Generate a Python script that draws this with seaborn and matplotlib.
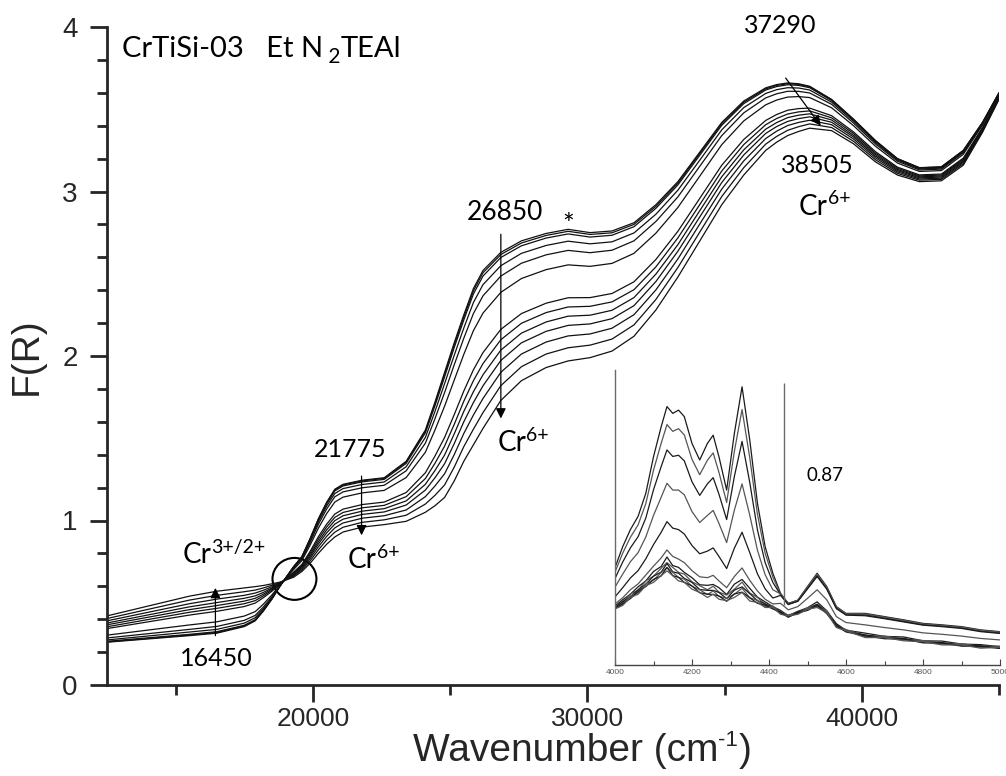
import matplotlib
matplotlib.use("Agg")
import matplotlib.pyplot as plt
from matplotlib import font_manager
from matplotlib.patches import Ellipse
from matplotlib.ticker import MultipleLocator
import pandas as pd
import seaborn as sns

# ---------------- DRS spectra, F(R) vs wavenumber (cm-1) ----------------
wavenumber = [12500, 14000, 15500, 16500, 17500, 17900, 18200, 18500, 18800, 19300,
              19600, 19900, 20200, 20500, 20800, 21100, 21800, 22600, 23400, 24100,
              24450, 24800, 25150, 25500, 25850, 26200, 26850, 27600, 28500, 29300,
              30100, 30900, 31700, 32500, 33300, 34100, 34900, 35700, 36500, 36900,
              37300, 37700, 38100, 38900, 39700, 40500, 41300, 42100, 42900, 43700,
              44400, 45000]

spectrum_01 = [0.260, 0.280, 0.300, 0.315, 0.355, 0.390, 0.450, 0.520, 0.600, 0.720, 0.780, 0.890, 1.010, 1.110, 1.190, 1.220, 1.245, 1.260, 1.360, 1.550, 1.720, 1.900, 2.080, 2.250, 2.410, 2.520, 2.630, 2.700, 2.745, 2.770, 2.750, 2.760, 2.810, 2.920, 3.060, 3.240, 3.420, 3.550, 3.630, 3.650, 3.660, 3.655, 3.640, 3.560, 3.440, 3.310, 3.200, 3.145, 3.150, 3.250, 3.420, 3.600]
spectrum_02 = [0.262, 0.283, 0.304, 0.319, 0.359, 0.393, 0.452, 0.521, 0.600, 0.719, 0.779, 0.888, 1.007, 1.106, 1.186, 1.216, 1.241, 1.256, 1.355, 1.543, 1.711, 1.889, 2.067, 2.237, 2.396, 2.506, 2.617, 2.687, 2.733, 2.758, 2.739, 2.749, 2.800, 2.910, 3.051, 3.232, 3.413, 3.543, 3.624, 3.645, 3.655, 3.651, 3.636, 3.557, 3.438, 3.308, 3.199, 3.144, 3.149, 3.249, 3.419, 3.599]
spectrum_03 = [0.266, 0.287, 0.308, 0.324, 0.363, 0.397, 0.455, 0.523, 0.601, 0.718, 0.777, 0.885, 1.003, 1.101, 1.180, 1.210, 1.235, 1.250, 1.347, 1.533, 1.698, 1.873, 2.051, 2.219, 2.377, 2.486, 2.599, 2.670, 2.717, 2.742, 2.723, 2.734, 2.786, 2.898, 3.040, 3.221, 3.403, 3.534, 3.617, 3.638, 3.649, 3.645, 3.631, 3.553, 3.435, 3.305, 3.197, 3.142, 3.147, 3.247, 3.418, 3.599]
spectrum_04 = [0.274, 0.298, 0.322, 0.338, 0.376, 0.409, 0.464, 0.529, 0.602, 0.714, 0.772, 0.877, 0.991, 1.087, 1.164, 1.194, 1.219, 1.234, 1.327, 1.505, 1.663, 1.832, 2.004, 2.170, 2.325, 2.434, 2.549, 2.624, 2.672, 2.698, 2.682, 2.694, 2.748, 2.862, 3.008, 3.191, 3.375, 3.510, 3.596, 3.619, 3.631, 3.629, 3.617, 3.543, 3.427, 3.298, 3.191, 3.137, 3.142, 3.242, 3.415, 3.596]
spectrum_05 = [0.286, 0.312, 0.338, 0.356, 0.393, 0.423, 0.475, 0.535, 0.604, 0.710, 0.766, 0.866, 0.976, 1.069, 1.144, 1.174, 1.199, 1.214, 1.302, 1.470, 1.619, 1.778, 1.946, 2.108, 2.258, 2.366, 2.486, 2.564, 2.615, 2.642, 2.628, 2.643, 2.700, 2.818, 2.967, 3.154, 3.340, 3.478, 3.569, 3.594, 3.609, 3.609, 3.599, 3.530, 3.416, 3.289, 3.184, 3.131, 3.136, 3.236, 3.410, 3.594]
spectrum_06 = [0.303, 0.334, 0.365, 0.384, 0.419, 0.446, 0.492, 0.546, 0.607, 0.702, 0.756, 0.850, 0.953, 1.041, 1.112, 1.142, 1.168, 1.183, 1.261, 1.415, 1.550, 1.695, 1.853, 2.010, 2.154, 2.261, 2.387, 2.471, 2.525, 2.554, 2.545, 2.563, 2.624, 2.747, 2.903, 3.094, 3.285, 3.429, 3.527, 3.556, 3.574, 3.577, 3.571, 3.509, 3.400, 3.275, 3.173, 3.122, 3.127, 3.226, 3.404, 3.589]
spectrum_07 = [0.343, 0.384, 0.425, 0.448, 0.477, 0.498, 0.531, 0.569, 0.613, 0.686, 0.733, 0.812, 0.901, 0.977, 1.039, 1.069, 1.097, 1.112, 1.170, 1.290, 1.392, 1.505, 1.643, 1.787, 1.916, 2.021, 2.162, 2.258, 2.321, 2.354, 2.355, 2.380, 2.451, 2.587, 2.758, 2.959, 3.160, 3.316, 3.432, 3.468, 3.494, 3.504, 3.507, 3.461, 3.362, 3.242, 3.148, 3.101, 3.106, 3.203, 3.389, 3.579]
spectrum_08 = [0.354, 0.398, 0.442, 0.466, 0.494, 0.513, 0.542, 0.576, 0.615, 0.682, 0.727, 0.802, 0.886, 0.960, 1.019, 1.049, 1.077, 1.092, 1.145, 1.255, 1.348, 1.452, 1.584, 1.725, 1.850, 1.954, 2.099, 2.199, 2.264, 2.298, 2.302, 2.329, 2.403, 2.542, 2.718, 2.921, 3.125, 3.285, 3.406, 3.444, 3.471, 3.484, 3.490, 3.448, 3.352, 3.233, 3.141, 3.095, 3.100, 3.197, 3.385, 3.576]
spectrum_09 = [0.366, 0.412, 0.458, 0.483, 0.510, 0.527, 0.552, 0.583, 0.617, 0.677, 0.721, 0.791, 0.871, 0.942, 0.999, 1.029, 1.057, 1.072, 1.119, 1.220, 1.304, 1.398, 1.526, 1.663, 1.783, 1.886, 2.036, 2.139, 2.207, 2.242, 2.248, 2.278, 2.355, 2.498, 2.677, 2.884, 3.090, 3.253, 3.379, 3.419, 3.449, 3.464, 3.472, 3.435, 3.341, 3.224, 3.134, 3.089, 3.094, 3.191, 3.380, 3.574]
spectrum_10 = [0.377, 0.426, 0.475, 0.501, 0.527, 0.542, 0.563, 0.589, 0.618, 0.673, 0.714, 0.781, 0.857, 0.924, 0.978, 1.008, 1.037, 1.052, 1.094, 1.185, 1.260, 1.345, 1.467, 1.600, 1.717, 1.819, 1.973, 2.080, 2.150, 2.186, 2.195, 2.227, 2.306, 2.453, 2.637, 2.846, 3.055, 3.222, 3.353, 3.395, 3.426, 3.443, 3.454, 3.421, 3.331, 3.215, 3.127, 3.083, 3.088, 3.184, 3.376, 3.571]
spectrum_11 = [0.390, 0.442, 0.494, 0.522, 0.545, 0.559, 0.576, 0.597, 0.620, 0.667, 0.707, 0.769, 0.840, 0.903, 0.955, 0.985, 1.014, 1.029, 1.064, 1.145, 1.210, 1.284, 1.400, 1.529, 1.641, 1.742, 1.901, 2.012, 2.085, 2.122, 2.134, 2.169, 2.251, 2.402, 2.590, 2.803, 3.015, 3.186, 3.322, 3.367, 3.401, 3.420, 3.433, 3.406, 3.319, 3.205, 3.119, 3.076, 3.081, 3.177, 3.371, 3.568]
spectrum_12 = [0.404, 0.460, 0.516, 0.545, 0.567, 0.577, 0.590, 0.606, 0.623, 0.662, 0.699, 0.755, 0.821, 0.881, 0.929, 0.959, 0.989, 1.004, 1.032, 1.100, 1.153, 1.216, 1.324, 1.449, 1.555, 1.656, 1.820, 1.935, 2.012, 2.050, 2.066, 2.103, 2.189, 2.344, 2.538, 2.754, 2.970, 3.145, 3.288, 3.335, 3.372, 3.394, 3.411, 3.389, 3.305, 3.193, 3.110, 3.069, 3.074, 3.169, 3.366, 3.564]
spectrum_13 = [0.420, 0.480, 0.540, 0.570, 0.590, 0.598, 0.605, 0.615, 0.625, 0.655, 0.690, 0.740, 0.800, 0.855, 0.900, 0.930, 0.960, 0.975, 0.995, 1.050, 1.090, 1.140, 1.240, 1.360, 1.460, 1.560, 1.730, 1.850, 1.930, 1.970, 1.990, 2.030, 2.120, 2.280, 2.480, 2.700, 2.920, 3.100, 3.250, 3.300, 3.340, 3.365, 3.385, 3.370, 3.290, 3.180, 3.100, 3.060, 3.065, 3.160, 3.360, 3.560]

# ---------------- NIR inset, 4000-5000 cm-1 (arbitrary units) ----------------
inset_wavenumber = [4000, 4020, 4040, 4060, 4080, 4100, 4120, 4135, 4150, 4165,
                    4180, 4200, 4220, 4240, 4255, 4270, 4290, 4310, 4330, 4350,
                    4370, 4390, 4410, 4430, 4450, 4475, 4500, 4525, 4550, 4575,
                    4600, 4650, 4700, 4750, 4800, 4850, 4900, 4950, 5000]

inset_01 = [0.330, 0.401, 0.459, 0.504, 0.582, 0.706, 0.808, 0.876, 0.853, 0.864, 0.842, 0.751, 0.695, 0.751, 0.779, 0.706, 0.593, 0.785, 0.943, 0.763, 0.548, 0.401, 0.311, 0.243, 0.209, 0.220, 0.266, 0.311, 0.266, 0.198, 0.175, 0.175, 0.164, 0.153, 0.141, 0.136, 0.130, 0.119, 0.113]
inset_02 = [0.315, 0.379, 0.433, 0.475, 0.547, 0.660, 0.752, 0.815, 0.792, 0.801, 0.780, 0.697, 0.645, 0.694, 0.719, 0.653, 0.551, 0.724, 0.866, 0.703, 0.511, 0.379, 0.298, 0.240, 0.207, 0.218, 0.263, 0.306, 0.262, 0.195, 0.173, 0.172, 0.161, 0.150, 0.138, 0.133, 0.127, 0.117, 0.111]
inset_03 = [0.293, 0.349, 0.397, 0.435, 0.498, 0.594, 0.673, 0.729, 0.707, 0.711, 0.692, 0.621, 0.575, 0.614, 0.635, 0.579, 0.493, 0.639, 0.758, 0.619, 0.458, 0.347, 0.280, 0.238, 0.206, 0.217, 0.260, 0.303, 0.260, 0.193, 0.171, 0.170, 0.159, 0.148, 0.137, 0.132, 0.126, 0.115, 0.109]
inset_04 = [0.264, 0.308, 0.350, 0.381, 0.434, 0.507, 0.569, 0.616, 0.593, 0.593, 0.577, 0.520, 0.483, 0.507, 0.524, 0.480, 0.415, 0.525, 0.614, 0.508, 0.389, 0.306, 0.255, 0.241, 0.208, 0.219, 0.264, 0.308, 0.263, 0.196, 0.173, 0.173, 0.162, 0.151, 0.139, 0.134, 0.128, 0.117, 0.111]
inset_05 = [0.231, 0.262, 0.295, 0.320, 0.360, 0.408, 0.450, 0.486, 0.464, 0.459, 0.444, 0.405, 0.377, 0.386, 0.397, 0.368, 0.327, 0.396, 0.450, 0.381, 0.309, 0.258, 0.227, 0.236, 0.205, 0.216, 0.258, 0.300, 0.257, 0.191, 0.169, 0.167, 0.157, 0.146, 0.135, 0.130, 0.124, 0.113, 0.107]
inset_06 = [0.207, 0.228, 0.255, 0.275, 0.305, 0.335, 0.363, 0.390, 0.368, 0.359, 0.347, 0.320, 0.299, 0.296, 0.304, 0.285, 0.262, 0.300, 0.329, 0.287, 0.251, 0.223, 0.207, 0.209, 0.187, 0.198, 0.226, 0.255, 0.221, 0.164, 0.144, 0.136, 0.127, 0.119, 0.109, 0.104, 0.098, 0.090, 0.085]
inset_07 = [0.200, 0.221, 0.240, 0.265, 0.285, 0.317, 0.334, 0.366, 0.337, 0.331, 0.314, 0.296, 0.272, 0.270, 0.273, 0.262, 0.239, 0.274, 0.290, 0.260, 0.230, 0.214, 0.198, 0.185, 0.167, 0.182, 0.194, 0.214, 0.184, 0.140, 0.118, 0.108, 0.097, 0.095, 0.082, 0.081, 0.071, 0.069, 0.062]
inset_08 = [0.197, 0.212, 0.241, 0.253, 0.285, 0.301, 0.328, 0.347, 0.331, 0.314, 0.308, 0.282, 0.269, 0.255, 0.267, 0.247, 0.237, 0.257, 0.281, 0.244, 0.229, 0.205, 0.200, 0.178, 0.170, 0.177, 0.194, 0.205, 0.184, 0.133, 0.120, 0.100, 0.098, 0.088, 0.083, 0.074, 0.072, 0.063, 0.064]
inset_09 = [0.195, 0.215, 0.231, 0.255, 0.274, 0.301, 0.315, 0.344, 0.316, 0.311, 0.294, 0.280, 0.256, 0.253, 0.253, 0.246, 0.225, 0.254, 0.265, 0.242, 0.218, 0.208, 0.193, 0.180, 0.163, 0.179, 0.188, 0.206, 0.178, 0.135, 0.114, 0.102, 0.092, 0.090, 0.077, 0.076, 0.066, 0.065, 0.058]
inset_10 = [0.193, 0.206, 0.234, 0.245, 0.275, 0.288, 0.313, 0.330, 0.314, 0.297, 0.291, 0.267, 0.255, 0.239, 0.251, 0.233, 0.226, 0.240, 0.260, 0.228, 0.219, 0.199, 0.196, 0.175, 0.167, 0.174, 0.190, 0.199, 0.180, 0.130, 0.117, 0.096, 0.094, 0.085, 0.080, 0.071, 0.069, 0.060, 0.061]
inset_11 = [0.191, 0.208, 0.225, 0.249, 0.266, 0.290, 0.302, 0.331, 0.303, 0.297, 0.280, 0.268, 0.245, 0.240, 0.239, 0.234, 0.216, 0.241, 0.247, 0.228, 0.209, 0.203, 0.190, 0.178, 0.162, 0.177, 0.185, 0.202, 0.174, 0.133, 0.112, 0.099, 0.089, 0.088, 0.075, 0.074, 0.064, 0.063, 0.056]
inset_12 = [0.190, 0.202, 0.229, 0.240, 0.269, 0.280, 0.303, 0.319, 0.303, 0.285, 0.280, 0.257, 0.246, 0.229, 0.240, 0.223, 0.218, 0.229, 0.246, 0.217, 0.212, 0.195, 0.195, 0.172, 0.166, 0.172, 0.189, 0.195, 0.177, 0.127, 0.116, 0.093, 0.093, 0.082, 0.079, 0.068, 0.068, 0.057, 0.060]

main_xticks = [20000, 30000, 40000]
main_yticks = [0, 1, 2, 3, 4]
inset_xticks = [4000, 4200, 4400, 4600, 4800, 5000]

# ---------------- fonts / style ----------------
sns.set_style("ticks")
available = {f.name for f in font_manager.fontManager.ttflist}
axis_font = "Liberation Sans" if "Liberation Sans" in available else "DejaVu Sans"
note_font = "Lato" if "Lato" in available else "DejaVu Sans"
plt.rcParams["font.family"] = [axis_font, "DejaVu Sans"]

spectra = [spectrum_01, spectrum_02, spectrum_03, spectrum_04, spectrum_05,
           spectrum_06, spectrum_07, spectrum_08, spectrum_09, spectrum_10,
           spectrum_11, spectrum_12, spectrum_13]
main_df = pd.concat(
    [pd.DataFrame({"wavenumber": wavenumber, "F": s, "spectrum": i})
     for i, s in enumerate(spectra)], ignore_index=True)

scans = [inset_01, inset_02, inset_03, inset_04, inset_05, inset_06,
         inset_07, inset_08, inset_09, inset_10, inset_11, inset_12]
inset_df = pd.concat(
    [pd.DataFrame({"wavenumber": inset_wavenumber, "A": s, "scan": i})
     for i, s in enumerate(scans)], ignore_index=True)

fig = plt.figure(figsize=(10.06, 7.76), dpi=100)
ax = fig.add_axes([107 / 1006, 91 / 776, 892 / 1006, 658 / 776])

sns.lineplot(data=main_df, x="wavenumber", y="F", units="spectrum",
             estimator=None, color="#111111", lw=0.9, ax=ax, legend=False)

ax.set_xlim(12500, 45000)
ax.set_ylim(0, 4)
for side in ("top", "right"):
    ax.spines[side].set_visible(False)
for side in ("left", "bottom"):
    ax.spines[side].set_linewidth(2)
ax.set_xticks(main_xticks)
ax.set_yticks(main_yticks)
ax.xaxis.set_minor_locator(MultipleLocator(5000))
ax.yaxis.set_minor_locator(MultipleLocator(0.2))
ax.tick_params(which="major", length=12, width=2, direction="out")
ax.tick_params(which="minor", length=7, width=2, direction="out")
ax.tick_params(axis="x", which="major", labelsize=19, pad=4)
ax.tick_params(axis="y", which="major", labelsize=20, pad=9)
ax.set_xlabel("")
ax.set_ylabel("F(R)", fontsize=28, labelpad=13)

# x-axis title with a raised "-1"
xl = ax.text(0.343, -0.073, "Wavenumber (cm", transform=ax.transAxes,
             fontsize=28, ha="left", va="top")
xl_sup = ax.annotate("-1", xy=(1.0, 0.63), xycoords=xl, fontsize=16,
                     ha="left", va="baseline")
ax.annotate(")", xy=(1.0, 0.0), xycoords=(xl_sup, xl), fontsize=28,
            ha="left", va="bottom")

# ---------------- annotations ----------------
note = dict(family=note_font, color="black")
num_size = 18
arrow = dict(arrowstyle="-|>", color="black", lw=0.9, mutation_scale=15,
             shrinkA=0, shrinkB=0)


def ion_label(x, y, base, sup, size=20, sup_size=14):
    t = ax.text(x, y, base, fontsize=size, ha="left", va="baseline", **note)
    ax.annotate(sup, xy=(1.0, 0.58), xycoords=t, fontsize=sup_size,
                ha="left", va="baseline", **note)


# sample title with N2 subscript
t1 = ax.text(13030, 3.82, "CrTiSi-03   Et N", fontsize=21, ha="left",
             va="baseline", **note)
t2 = ax.annotate(" 2", xy=(1.0, -0.05), xycoords=t1, fontsize=15,
                 ha="left", va="baseline", **note)
ax.annotate("TEAl", xy=(1.0, 0.0), xycoords=(t2, t1), fontsize=21,
            ha="left", va="bottom", **note)

ax.text(37044, 4.01, "37290", fontsize=num_size, ha="center", va="center",
        clip_on=False, **note)
ax.annotate("", xy=(38504, 3.40), xytext=(37226, 3.69), arrowprops=arrow)
ax.text(38394, 3.16, "38505", fontsize=num_size, ha="center", va="center", **note)
ion_label(37700, 2.86, "Cr", "6+")

ax.text(27007, 2.87, "26850", fontsize=19, ha="center", va="center", **note)
ax.text(29307, 2.79, "*", fontsize=20, ha="center", va="center", **note)
ax.annotate("", xy=(26850, 1.62), xytext=(26850, 2.74), arrowprops=arrow)
ion_label(26715, 1.42, "Cr", "6+")

ax.text(21350, 1.43, "21775", fontsize=num_size, ha="center", va="center", **note)
ax.annotate("", xy=(21775, 0.91), xytext=(21775, 1.27), arrowprops=arrow)
ion_label(21277, 0.71, "Cr", "6+")

ion_label(15255, 0.74, "Cr", "3+/2+")
ax.annotate("", xy=(16450, 0.59), xytext=(16450, 0.30), arrowprops=arrow)
ax.text(16496, 0.16, "16450", fontsize=num_size, ha="center", va="center", **note)

ax.add_patch(Ellipse((19330, 0.645), width=1600, height=0.255,
                     fill=False, edgecolor="black", lw=1.5))

# ---------------- NIR inset ----------------
axin = fig.add_axes([615 / 1006, 111 / 776, 385 / 1006, 295 / 776])
axin.patch.set_alpha(0)
scan_colors = ["#1a1a1a", "#555555"] * 6
sns.lineplot(data=inset_df, x="wavenumber", y="A", hue="scan",
             palette=scan_colors, estimator=None, lw=0.9, ax=axin, legend=False)
axin.set_xlim(4000, 5000)
axin.set_ylim(0, 1)
axin.set_xlabel("")
axin.set_ylabel("")
axin.set_yticks([])
axin.set_xticks(inset_xticks)
axin.xaxis.set_minor_locator(MultipleLocator(100))
for side in ("top", "right"):
    axin.spines[side].set_visible(False)
axin.spines["left"].set_color("#6a6a6a")
axin.spines["left"].set_linewidth(1.0)
axin.spines["bottom"].set_color("#444444")
axin.spines["bottom"].set_linewidth(1.0)
axin.tick_params(axis="x", which="both", direction="in", color="#444444",
                 width=0.8, labelsize=6, labelcolor="#555555", pad=3)
axin.tick_params(axis="x", which="major", length=4)
axin.tick_params(axis="x", which="minor", length=3)
axin.vlines(4440, 0.203, 0.956, color="#6a6a6a", lw=1.0)
axin.text(4545, 0.644, "0.87", fontsize=13.5, ha="center", va="center", **note)

fig.savefig("out.png", dpi=100)
